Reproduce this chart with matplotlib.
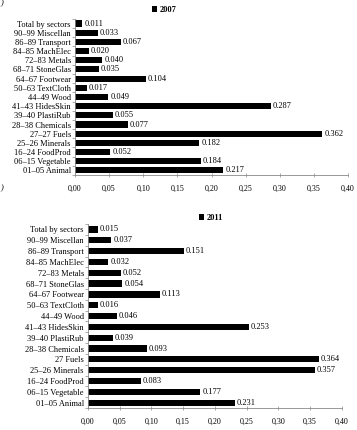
import matplotlib
matplotlib.use("Agg")
import matplotlib.pyplot as plt
import numpy as np

cats_2007 = ["Total by sectors", "90–99 Miscellan", "86–89 Transport", "84–85 MachElec",
             "72–83 Metals", "68–71 StoneGlas", "64–67 Footwear", "50–63 TextCloth",
             "44–49 Wood", "41–43 HidesSkin", "39–40 PlastiRub", "28–38 Chemicals",
             "27–27 Fuels", "25–26 Minerals", "16–24 FoodProd", "06–15 Vegetable", "01–05 Animal"]
vals_2007 = [0.011, 0.033, 0.067, 0.020, 0.040, 0.035, 0.104, 0.017, 0.049, 0.287,
             0.055, 0.077, 0.362, 0.182, 0.052, 0.184, 0.217]

cats_2011 = ["Total by sectors", "90–99 Miscellan", "86–89 Transport", "84–85 MachElec",
             "72–83 Metals", "68–71 StoneGlas", "64–67 Footwear", "50–63 TextCloth",
             "44–49 Wood", "41–43 HidesSkin", "39–40 PlastiRub", "28–38 Chemicals",
             "27 Fuels", "25–26 Minerals", "16–24 FoodProd", "06–15 Vegetable", "01–05 Animal"]
vals_2011 = [0.015, 0.037, 0.151, 0.032, 0.052, 0.054, 0.113, 0.016, 0.046, 0.253,
             0.039, 0.093, 0.364, 0.357, 0.083, 0.177, 0.231]

xticks = [0.00, 0.05, 0.10, 0.15, 0.20, 0.25, 0.30, 0.35, 0.40]
xticklabels = ["0,00", "0,05", "0,10", "0,15", "0,20", "0,25", "0,30", "0,35", "0,40"]

plt.rcParams['font.family'] = ['Liberation Serif', 'DejaVu Serif']

fig = plt.figure(figsize=(3.57, 4.30), dpi=100)

def panel(rect, cats, vals, year, bh, legend_xy, fs):
    ax = fig.add_axes(rect)
    n = len(cats)
    y = np.arange(n)[::-1]
    ax.barh(y, vals, height=bh, color='black', label=year)
    for yi, v in zip(y, vals):
        ax.text(v + 0.003, yi, f"{v:.3f}", va='center', ha='left', fontsize=fs)
    ax.set_yticks(y)
    ax.set_yticklabels(cats, fontsize=fs)
    ax.set_ylim(-0.5, n - 0.5)
    ax.set_yticks(np.arange(n + 1) - 0.5, minor=True)
    ax.tick_params(axis='y', which='major', length=0, pad=3)
    ax.tick_params(axis='y', which='minor', length=2, width=0.5, direction='out', color='#888888')
    ax.set_xlim(0, 0.40)
    ax.set_xticks(xticks)
    ax.set_xticklabels(xticklabels, fontsize=fs - 0.2)
    ax.tick_params(axis='x', length=2.5, width=0.5, direction='inout', color='#888888', pad=6)
    for s in ['top', 'right']:
        ax.spines[s].set_visible(False)
    ax.spines['left'].set_color('#888888')
    ax.spines['bottom'].set_color('#888888')
    ax.spines['left'].set_linewidth(0.6)
    ax.spines['bottom'].set_linewidth(0.6)
    leg = ax.legend(loc='center', bbox_to_anchor=legend_xy, bbox_transform=fig.transFigure,
                    frameon=False, fontsize=fs, handlelength=0.6, handleheight=0.6,
                    handletextpad=0.3, borderpad=0)
    for t in leg.get_texts():
        t.set_fontweight('bold')
    return ax

panel([0.210, 0.593, 0.765, 0.363], cats_2007, vals_2007, "2007", 0.66, (0.46, 0.977), 6.0)
panel([0.2465, 0.051, 0.711, 0.428], cats_2011, vals_2011, "2011", 0.58, (0.59, 0.493), 6.0)

fig.text(0.0, 0.562, ")", fontsize=6, ha='left', va='center', style='italic')
fig.text(0.0, 0.992, ")", fontsize=6, ha='left', va='center', style='italic')

fig.savefig("out.png", dpi=100)
